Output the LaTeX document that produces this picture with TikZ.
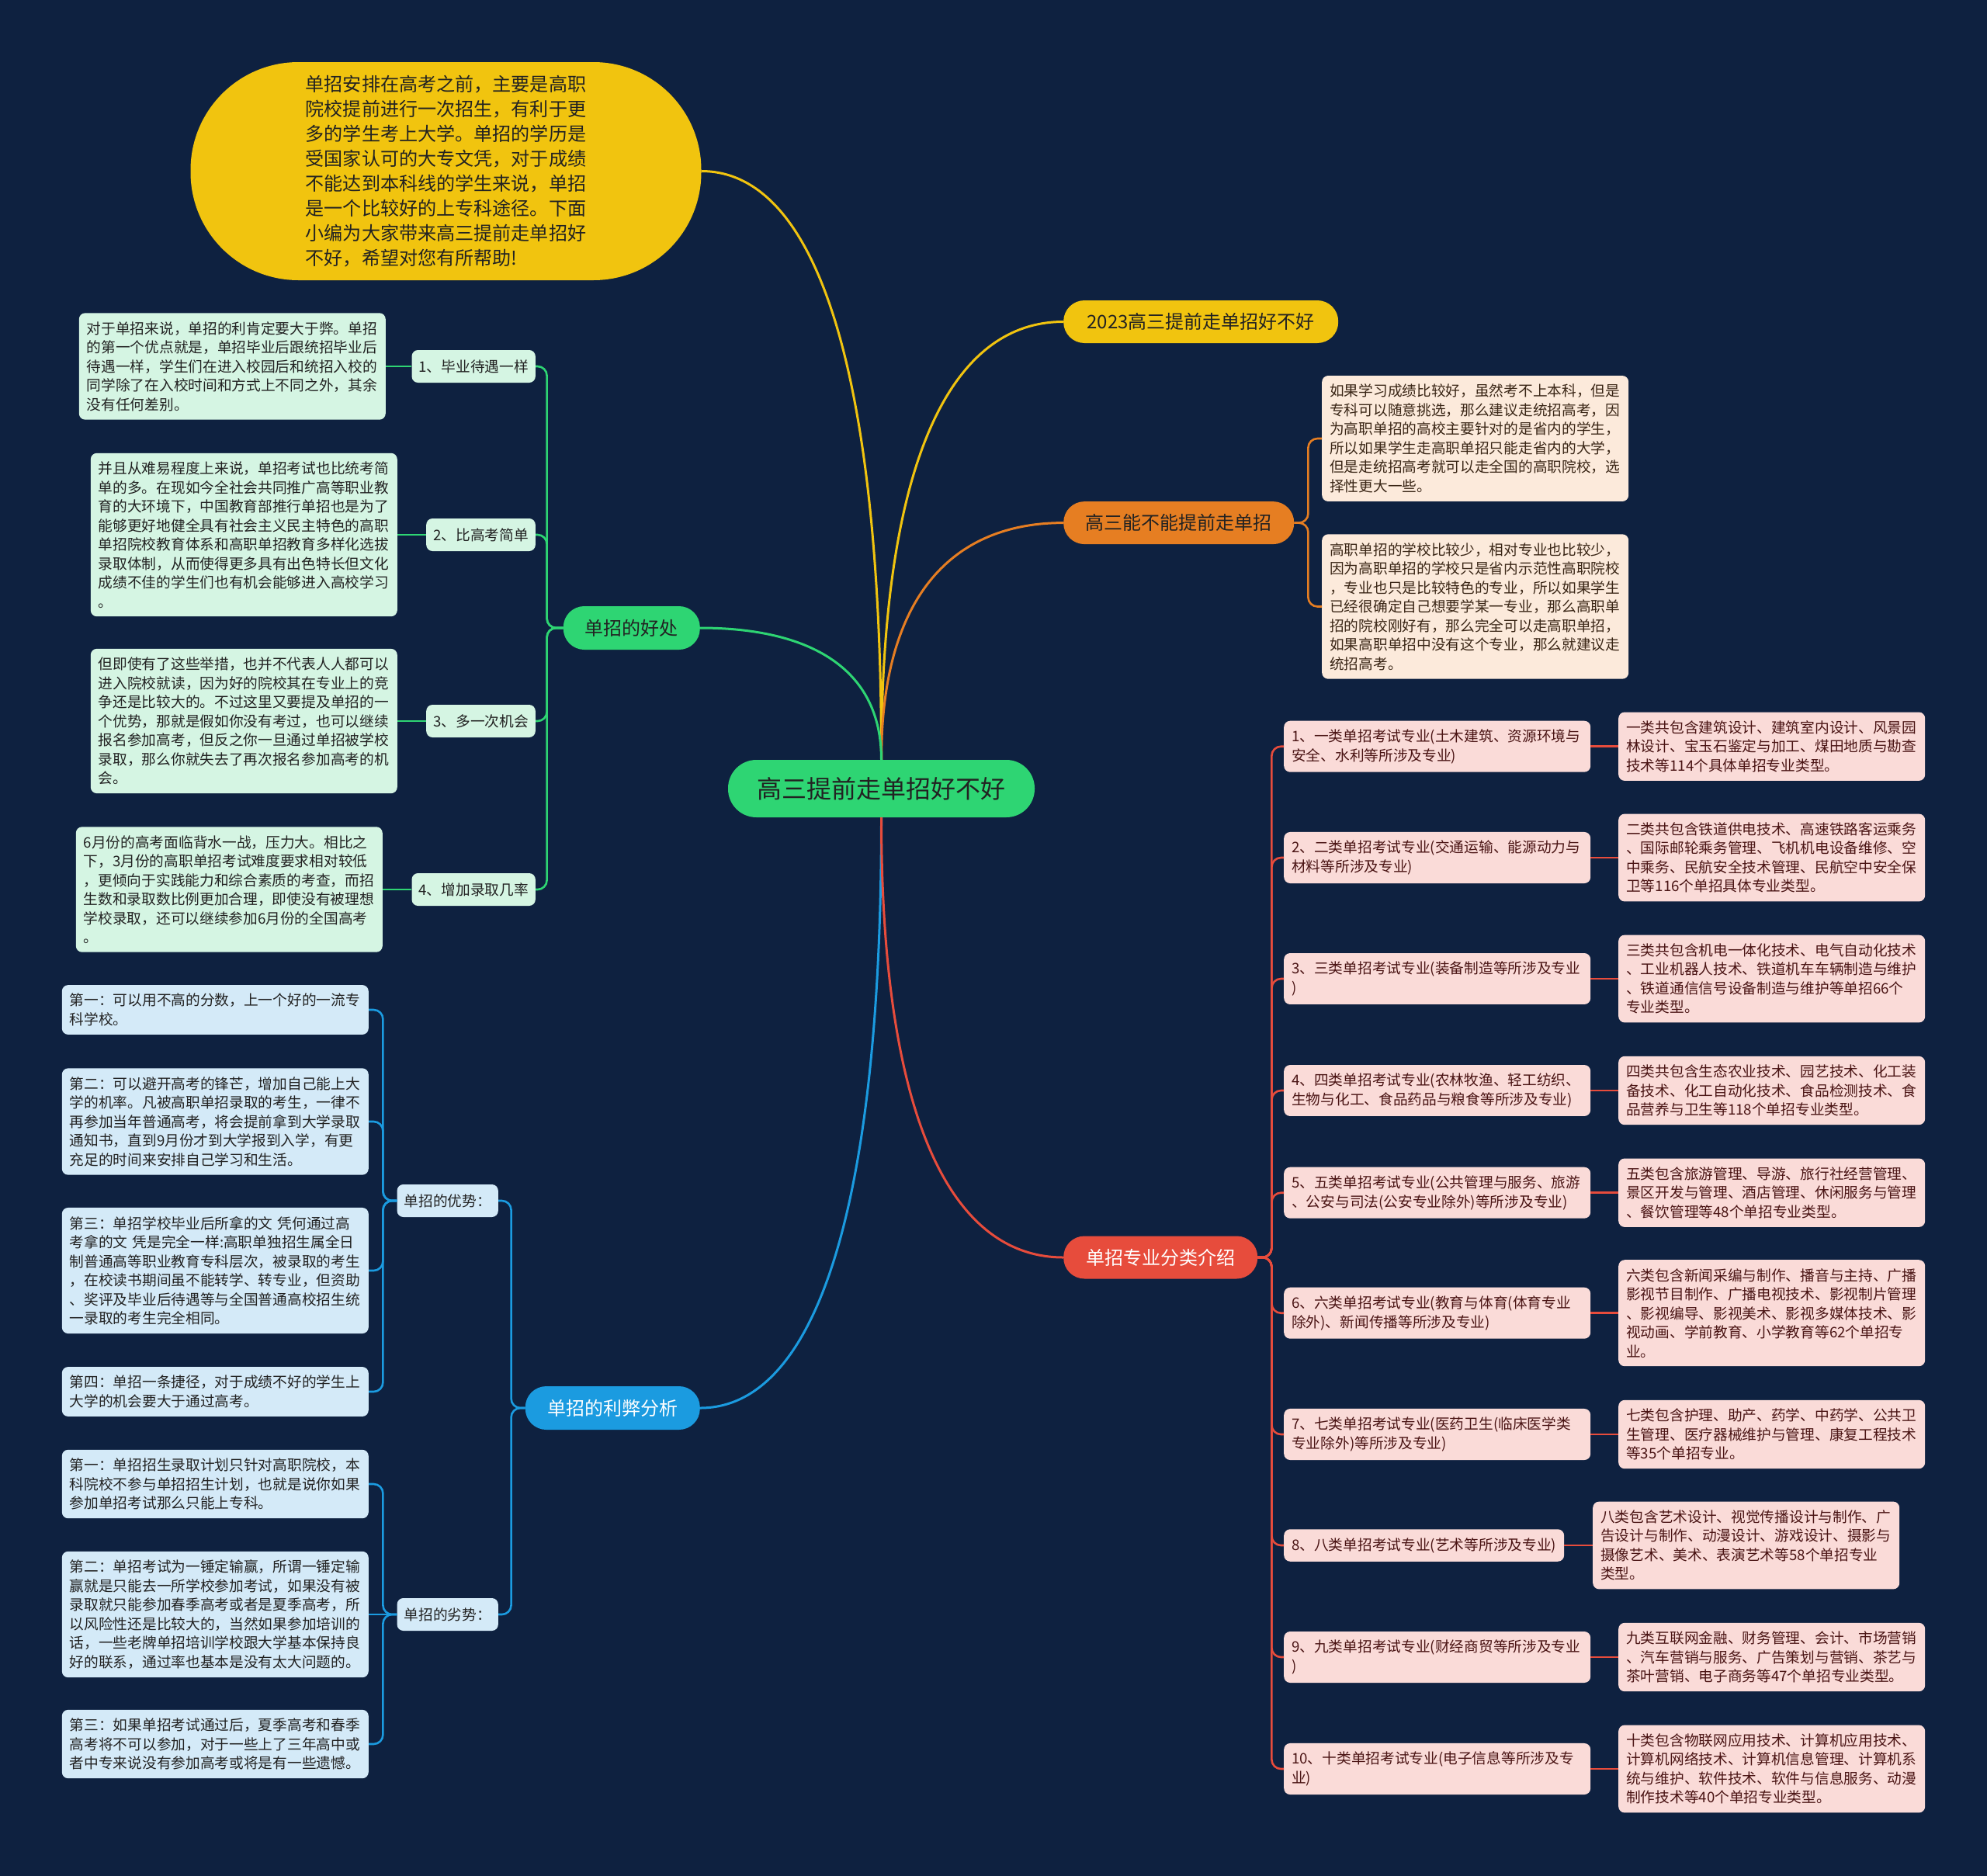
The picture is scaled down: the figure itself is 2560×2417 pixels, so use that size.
\documentclass[tikz,border=0pt]{standalone}
\usepackage{fontspec}
\newfontfamily\cjk{Noto Sans CJK SC}
\usetikzlibrary{calc}
\definecolor{bg}{HTML}{0E2140}
\definecolor{cgreen}{HTML}{2ED573}
\definecolor{cyellow}{HTML}{F1C40F}
\definecolor{corange}{HTML}{E67E22}
\definecolor{cred}{HTML}{E74C3C}
\definecolor{cblue}{HTML}{1B9BE0}
\definecolor{gfill}{HTML}{D5F5E3}
\definecolor{bfill}{HTML}{D4EAF8}
\definecolor{pfill}{HTML}{FCEADB}
\definecolor{rfill}{HTML}{FADBD8}
\definecolor{dtext}{HTML}{222222}
\definecolor{ptext}{HTML}{3A2616}
\definecolor{rtext}{HTML}{4A1414}
\tikzset{
  smallfont/.style={font=\cjk\fontsize{18.7pt}{24.5pt}\selectfont},
  txtbox/.style={smallfont, align=left, text width=375pt, inner xsep=10pt, inner ysep=11pt, rounded corners=8pt},
  gbx/.style={txtbox, fill=gfill, text=dtext},
  bbx/.style={txtbox, fill=bfill, text=dtext},
  pbx/.style={txtbox, fill=pfill, text=ptext},
  rbx/.style={txtbox, fill=rfill, text=rtext},
  subnd/.style={smallfont, inner xsep=9pt, inner ysep=0pt, minimum height=42pt, rounded corners=8pt},
  pill/.style={font=\cjk\fontsize{24pt}{30pt}\selectfont, inner xsep=10pt, inner ysep=0pt, minimum height=55pt, rounded corners=27pt},
  mainln/.style={line width=3pt},
  brln/.style={line width=2.6pt, rounded corners=12pt},
}
\newcommand{\mmcurve}[3]{\draw[mainln, draw=#1] (#2) .. controls ($(#2)!0.7!(#2 |- #3)$) and ($(#3)!0.6!(#2 |- #3)$) .. (#3);}
\begin{document}
\begin{tikzpicture}[x=1pt,y=-1pt]
\useasboundingbox (0,0) rectangle (2560,2417);
\fill[bg] (0,0) rectangle (2560,2417);

% ---------- centre and first level ----------
\node[fill=cgreen, text=dtext, font=\cjk\fontsize{32pt}{38pt}\selectfont, inner sep=0pt, minimum width=395pt, minimum height=74pt, rounded corners=36.5pt] (c) at (1135.5,1016) {高三提前走单招好不好};

\node[fill=cyellow, text=dtext, rounded corners=139pt, minimum width=658pt, minimum height=281pt, align=left, font=\cjk\fontsize{24.1pt}{32pt}\selectfont] (ell) at (574.5,220.5) {单招安排在高考之前，主要是高职\\院校提前进行一次招生，有利于更\\多的学生考上大学。单招的学历是\\受国家认可的大专文凭，对于成绩\\不能达到本科线的学生来说，单招\\是一个比较好的上专科途径。下面\\小编为大家带来高三提前走单招好\\不好，希望对您有所帮助!};

\node[pill, fill=cyellow, text=dtext, anchor=west, minimum width=354pt] (p1) at (1370,414.5) {2023高三提前走单招好不好};
\node[pill, fill=corange, text=dtext, anchor=west, minimum width=297pt] (p2) at (1370,673.6) {高三能不能提前走单招};
\node[pill, fill=cred, text=white, anchor=west, minimum width=250pt] (p3) at (1370,1620) {单招专业分类介绍};
\node[pill, fill=cgreen, text=dtext, anchor=east, minimum width=176pt, minimum height=56pt] (p4) at (902,809) {单招的好处};
\node[pill, fill=cblue, text=white, anchor=east, minimum width=225pt, minimum height=56pt] (p5) at (902,1814) {单招的利弊分析};

\mmcurve{cyellow}{c.north}{ell.east}
\mmcurve{cyellow}{c.north}{p1.west}
\mmcurve{corange}{c.north}{p2.west}
\mmcurve{cgreen}{c.north}{p4.east}
\mmcurve{cblue}{c.south}{p5.east}
\mmcurve{cred}{c.south}{p3.west}

% ---------- 单招的好处 ----------
\node[subnd, fill=gfill, text=dtext, anchor=east] (s1) at (690,472) {1、毕业待遇一样};
\node[subnd, fill=gfill, text=dtext, anchor=east] (s2) at (690,689) {2、比高考简单};
\node[subnd, fill=gfill, text=dtext, anchor=east] (s3) at (690,929) {3、多一次机会};
\node[subnd, fill=gfill, text=dtext, anchor=east] (s4) at (690,1146) {4、增加录取几率};

\node[gbx, anchor=east] (d1) at (497,472) {对于单招来说，单招的利肯定要大于弊。单招\\的第一个优点就是，单招毕业后跟统招毕业后\\待遇一样，学生们在进入校园后和统招入校的\\同学除了在入校时间和方式上不同之外，其余\\没有任何差别。};
\node[gbx, anchor=east] (d2) at (512,689) {并且从难易程度上来说，单招考试也比统考简\\单的多。在现如今全社会共同推广高等职业教\\育的大环境下，中国教育部推行单招也是为了\\能够更好地健全具有社会主义民主特色的高职\\单招院校教育体系和高职单招教育多样化选拔\\录取体制，从而使得更多具有出色特长但文化\\成绩不佳的学生们也有机会能够进入高校学习\\。};
\node[gbx, anchor=east] (d3) at (512,929) {但即使有了这些举措，也并不代表人人都可以\\进入院校就读，因为好的院校其在专业上的竞\\争还是比较大的。不过这里又要提及单招的一\\个优势，那就是假如你没有考过，也可以继续\\报名参加高考，但反之你一旦通过单招被学校\\录取，那么你就失去了再次报名参加高考的机\\会。};
\node[gbx, anchor=east] (d4) at (493,1146) {6月份的高考面临背水一战，压力大。相比之\\下，3月份的高职单招考试难度要求相对较低\\，更倾向于实践能力和综合素质的考查，而招\\生数和录取数比例更加合理，即使没有被理想\\学校录取，还可以继续参加6月份的全国高考\\。};

\foreach \s in {s1,s2,s3,s4} \draw[brln, draw=cgreen] (p4.west) -- ++(-21,0) |- (\s.east);
\foreach \k in {1,2,3,4} \draw[brln, draw=cgreen] (d\k.east) -- (s\k.west);

% ---------- 单招的利弊分析 ----------
\node[subnd, fill=bfill, text=dtext, anchor=east] (u1) at (642,1547) {单招的优势：};
\node[subnd, fill=bfill, text=dtext, anchor=east] (u2) at (642,2080) {单招的劣势：};
\foreach \s in {u1,u2} \draw[brln, draw=cblue] (p5.west) -- ++(-18,0) |- (\s.east);

\node[bbx, anchor=east] (b1) at (475,1301) {第一：可以用不高的分数，上一个好的一流专\\科学校。};
\node[bbx, anchor=east] (b2) at (475,1445) {第二：可以避开高考的锋芒，增加自己能上大\\学的机率。凡被高职单招录取的考生，一律不\\再参加当年普通高考，将会提前拿到大学录取\\通知书，直到9月份才到大学报到入学，有更\\充足的时间来安排自己学习和生活。};
\node[bbx, anchor=east] (b3) at (475,1637) {第三：单招学校毕业后所拿的文 凭何通过高\\考拿的文 凭是完全一样:高职单独招生属全日\\制普通高等职业教育专科层次，被录取的考生\\，在校读书期间虽不能转学、转专业，但资助\\、奖评及毕业后待遇等与全国普通高校招生统\\一录取的考生完全相同。};
\node[bbx, anchor=east] (b4) at (475,1793) {第四：单招一条捷径，对于成绩不好的学生上\\大学的机会要大于通过高考。};
\foreach \k in {1,2,3,4} \draw[brln, draw=cblue] (u1.west) -- ++(-18,0) |- (b\k.east);

\node[bbx, anchor=east] (w1) at (475,1912) {第一：单招招生录取计划只针对高职院校，本\\科院校不参与单招招生计划，也就是说你如果\\参加单招考试那么只能上专科。};
\node[bbx, anchor=east] (w2) at (475,2080) {第二：单招考试为一锤定输赢，所谓一锤定输\\赢就是只能去一所学校参加考试，如果没有被\\录取就只能参加春季高考或者是夏季高考，所\\以风险性还是比较大的，当然如果参加培训的\\话，一些老牌单招培训学校跟大学基本保持良\\好的联系，通过率也基本是没有太大问题的。};
\node[bbx, anchor=east] (w3) at (475,2247) {第三：如果单招考试通过后，夏季高考和春季\\高考将不可以参加，对于一些上了三年高中或\\者中专来说没有参加高考或将是有一些遗憾。};
\foreach \k in {1,3} \draw[brln, draw=cblue] (u2.west) -- ++(-18,0) |- (w\k.east);
\draw[brln, draw=cblue] (u2.west) -- (w2.east);

% ---------- 高三能不能提前走单招 ----------
\node[pbx, anchor=west] (a1) at (1703,565) {如果学习成绩比较好，虽然考不上本科，但是\\专科可以随意挑选，那么建议走统招高考，因\\为高职单招的高校主要针对的是省内的学生，\\所以如果学生走高职单招只能走省内的大学，\\但是走统招高考就可以走全国的高职院校，选\\择性更大一些。};
\node[pbx, anchor=west] (a2) at (1703,781.5) {高职单招的学校比较少，相对专业也比较少，\\因为高职单招的学校只是省内示范性高职院校\\，专业也只是比较特色的专业，所以如果学生\\已经很确定自己想要学某一专业，那么高职单\\招的院校刚好有，那么完全可以走高职单招，\\如果高职单招中没有这个专业，那么就建议走\\统招高考。};
\foreach \s in {a1,a2} \draw[brln, draw=corange] (p2.east) -- ++(18,0) |- (\s.west);

% ---------- 单招专业分类介绍 ----------
\node[rbx, anchor=west] (k1) at (1654,961.7) {1、一类单招考试专业(土木建筑、资源环境与\\安全、水利等所涉及专业)};
\node[rbx, anchor=west] (k2) at (1654,1105) {2、二类单招考试专业(交通运输、能源动力与\\材料等所涉及专业)};
\node[rbx, anchor=west] (k3) at (1654,1261) {3、三类单招考试专业(装备制造等所涉及专业\\)};
\node[rbx, anchor=west] (k4) at (1654,1405) {4、四类单招考试专业(农林牧渔、轻工纺织、\\生物与化工、食品药品与粮食等所涉及专业)};
\node[rbx, anchor=west] (k5) at (1654,1536.7) {5、五类单招考试专业(公共管理与服务、旅游\\、公安与司法(公安专业除外)等所涉及专业)};
\node[rbx, anchor=west] (k6) at (1654,1691.7) {6、六类单招考试专业(教育与体育(体育专业\\除外)、新闻传播等所涉及专业)};
\node[rbx, anchor=west] (k7) at (1654,1848) {7、七类单招考试专业(医药卫生(临床医学类\\专业除外)等所涉及专业)};
\node[rbx, anchor=west, text width=] (k8) at (1654,1991) {8、八类单招考试专业(艺术等所涉及专业)};
\node[rbx, anchor=west] (k9) at (1654,2135) {9、九类单招考试专业(财经商贸等所涉及专业\\)};
\node[rbx, anchor=west] (k10) at (1654,2279) {10、十类单招考试专业(电子信息等所涉及专\\业)};

\node[rbx, anchor=west] (e1) at (2085,961.7) {一类共包含建筑设计、建筑室内设计、风景园\\林设计、宝玉石鉴定与加工、煤田地质与勘查\\技术等114个具体单招专业类型。};
\node[rbx, anchor=west] (e2) at (2085,1105) {二类共包含铁道供电技术、高速铁路客运乘务\\、国际邮轮乘务管理、飞机机电设备维修、空\\中乘务、民航安全技术管理、民航空中安全保\\卫等116个单招具体专业类型。};
\node[rbx, anchor=west] (e3) at (2085,1261) {三类共包含机电一体化技术、电气自动化技术\\、工业机器人技术、铁道机车车辆制造与维护\\、铁道通信信号设备制造与维护等单招66个\\专业类型。};
\node[rbx, anchor=west] (e4) at (2085,1405) {四类共包含生态农业技术、园艺技术、化工装\\备技术、化工自动化技术、食品检测技术、食\\品营养与卫生等118个单招专业类型。};
\node[rbx, anchor=west] (e5) at (2085,1536.7) {五类包含旅游管理、导游、旅行社经营管理、\\景区开发与管理、酒店管理、休闲服务与管理\\、餐饮管理等48个单招专业类型。};
\node[rbx, anchor=west] (e6) at (2085,1691.7) {六类包含新闻采编与制作、播音与主持、广播\\影视节目制作、广播电视技术、影视制片管理\\、影视编导、影视美术、影视多媒体技术、影\\视动画、学前教育、小学教育等62个单招专\\业。};
\node[rbx, anchor=west] (e7) at (2085,1848) {七类包含护理、助产、药学、中药学、公共卫\\生管理、医疗器械维护与管理、康复工程技术\\等35个单招专业。};
\node[rbx, anchor=west] (e8) at (2052,1991) {八类包含艺术设计、视觉传播设计与制作、广\\告设计与制作、动漫设计、游戏设计、摄影与\\摄像艺术、美术、表演艺术等58个单招专业\\类型。};
\node[rbx, anchor=west] (e9) at (2085,2135) {九类互联网金融、财务管理、会计、市场营销\\、汽车营销与服务、广告策划与营销、茶艺与\\茶叶营销、电子商务等47个单招专业类型。};
\node[rbx, anchor=west] (e10) at (2085,2279) {十类包含物联网应用技术、计算机应用技术、\\计算机网络技术、计算机信息管理、计算机系\\统与维护、软件技术、软件与信息服务、动漫\\制作技术等40个单招专业类型。};

\foreach \k in {1,...,10} \draw[brln, draw=cred] (p3.east) -- ++(18,0) |- (k\k.west);
\foreach \k in {1,...,10} \draw[brln, draw=cred] (k\k.east) -- (e\k.west);
\end{tikzpicture}
\end{document}
